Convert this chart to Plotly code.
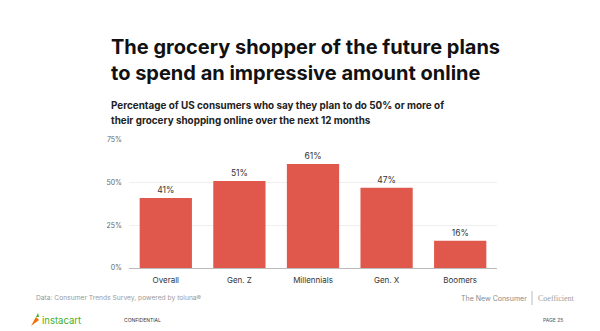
import plotly.graph_objects as go

categories = ["Overall", "Gen. Z", "Millennials", "Gen. X", "Boomers"]
values = [41, 51, 61, 47, 16]
tick_vals = [0, 25, 50, 75]
tick_text = ["0%", "25%", "50%", "75%"]

W, H = 600, 331
L, R, T, B = 129, 497, 140, 268

def px(x):
    return (x - L) / (R - L)

def py(y):
    return (B - y) / (B - T)

fig = go.Figure()
fig.add_trace(go.Bar(
    x=categories, y=values,
    marker=dict(color="#E0574C", line=dict(width=0)),
    texttemplate="%{y}%", textposition="outside",
    textfont=dict(size=8.5, color="#333333", family="Inter"),
    cliponaxis=False,
))

fig.update_layout(
    width=W, height=H,
    margin=dict(l=L, r=W - R, t=T, b=H - B),
    paper_bgcolor="white", plot_bgcolor="white",
    bargap=0.29,
    showlegend=False,
    font=dict(family="Inter", color="#222"),
    xaxis=dict(showgrid=False, ticks="", showline=True, linecolor="#bbbbbb", linewidth=1,
               tickfont=dict(size=8, color="#333333"), ticklabelstandoff=4),
    yaxis=dict(range=[0, 75], tickvals=tick_vals, ticktext=tick_text,
               showgrid=True, gridcolor="#efefef", gridwidth=1, zeroline=False,
               tickfont=dict(size=7, color="#666666"), ticks="", ticklabelstandoff=6),
)

ann = []
def text(x, y, s, size, color, bold=False, anchor="left", family="Inter"):
    ann.append(dict(x=px(x), y=py(y), xref="paper", yref="paper", text=("<b>%s</b>" % s) if bold else s,
                    showarrow=False, xanchor=anchor, yanchor="middle",
                    font=dict(size=size, color=color, family=family)))

text(109, 47, "The grocery shopper of the future plans", 20, "#111111", True)
text(109, 73, "to spend an impressive amount online", 20, "#111111", True)
text(109, 105, "Percentage of US consumers who say they plan to do 50% or more of", 9.9, "#222222", True)
text(109, 120, "their grocery shopping online over the next 12 months", 9.9, "#222222", True)
text(34, 298, "Data: Consumer Trends Survey, powered by toluna®", 6.7, "#9a9a9a")
text(529, 298, "The New Consumer", 7, "#8a8a8a", anchor="right")
text(536, 298, "Coefficient", 8, "#a0a0a0", family="Liberation Serif")
text(40, 320, "instacart", 9.5, "#43B02A")
text(122, 320, "CONFIDENTIAL", 5, "#333333")
text(565, 320, "PAGE 25", 5, "#555555", anchor="right")
fig.update_layout(annotations=ann)

# separator and logo carrot (decorative)
fig.add_shape(type="line", xref="paper", yref="paper", x0=px(532), x1=px(532), y0=py(291), y1=py(305),
              line=dict(color="#bbbbbb", width=1))
fig.add_shape(type="path", xref="paper", yref="paper",
              path="M %f %f L %f %f L %f %f Z" % (px(31), py(326), px(36), py(317), px(39), py(320)),
              fillcolor="#F36D00", line=dict(width=0))
fig.add_shape(type="path", xref="paper", yref="paper",
              path="M %f %f L %f %f L %f %f Z" % (px(36), py(317), px(38), py(313), px(39), py(317)),
              fillcolor="#43B02A", line=dict(width=0))

fig.write_html("out.html")
